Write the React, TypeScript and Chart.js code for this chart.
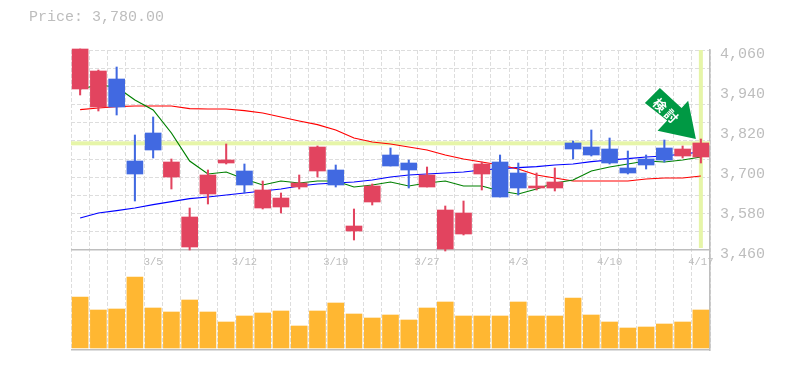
import React, { useEffect, useRef } from "react";
import { Chart, registerables } from "chart.js";

Chart.register(...registerables);

const dates = ["2/27","2/28","3/1","3/2","3/5","3/6","3/7","3/8","3/9","3/12","3/13","3/14","3/15","3/16","3/19","3/20","3/22","3/23","3/26","3/27","3/28","3/29","3/30","4/2","4/3","4/4","4/5","4/6","4/9","4/10","4/11","4/12","4/13","4/16","4/17"];
const shownDates = ["3/5","3/12","3/19","3/27","4/3","4/10","4/17"];

const opens = [3943,3889,3973,3727,3811,3679,3469,3628,3721,3697,3586,3589,3649,3697,3700,3517,3604,3745,3721,3649,3463,3508,3688,3724,3691,3646,3646,3781,3769,3763,3706,3733,3766,3742,3739];
const closes = [4063,3997,3889,3688,3760,3724,3559,3685,3730,3655,3640,3616,3661,3769,3655,3532,3652,3712,3700,3685,3580,3571,3718,3619,3646,3652,3664,3763,3745,3721,3691,3715,3730,3763,3781];
const highs = [4063,4000,4009,3805,3859,3733,3586,3700,3778,3718,3667,3631,3685,3772,3715,3583,3658,3766,3730,3709,3592,3607,3724,3745,3721,3691,3706,3787,3820,3796,3757,3745,3790,3772,3793];
const lows = [3925,3877,3865,3607,3736,3643,3460,3598,3718,3631,3583,3571,3643,3679,3649,3490,3595,3712,3646,3649,3457,3505,3640,3619,3625,3640,3637,3733,3742,3718,3688,3703,3724,3736,3721];
const volumes = [51,38,39,71,40,36,48,36,26,32,35,37,22,37,45,34,30,33,28,40,46,32,32,32,46,32,32,50,33,26,20,21,24,26,38];
const maShort = [3943,3955,3949,3910,3880,3811,3727,3688,3694,3673,3655,3667,3661,3667,3667,3649,3655,3664,3652,3661,3667,3652,3652,3637,3628,3643,3661,3670,3697,3709,3718,3727,3724,3730,3739];
const maMid = [3881,3886,3890,3892,3892,3892,3884,3883,3883,3878,3871,3859,3847,3836,3820,3796,3784,3778,3769,3760,3745,3733,3724,3715,3703,3685,3676,3667,3667,3667,3667,3673,3676,3676,3682];
const maLong = [3556,3571,3578,3586,3596,3605,3614,3619,3625,3631,3637,3643,3652,3658,3661,3664,3670,3679,3685,3688,3691,3694,3700,3704,3707,3710,3715,3718,3725,3730,3734,3739,3742,3748,3754];

const priceTicks = [4060,3940,3820,3700,3580,3460];
const gridPrices = [4060,4005.5,3951,3896.4,3841.8,3787.3,3732.7,3678.2,3623.6,3569.1,3514.5,3460,3160];
const currentPrice = 3780;
const title = "Price: 3,780.00";
const arrowText = ["検", "討"];

const UP = "#E2445F";
const DOWN = "#4169E1";
const PALE = "#E6F5A8";
const FRAME = "#BEBEBE";
const GRID = "#DDDDDD";
const TEXT = "#BDBDBD";
const MONO = "'Liberation Mono', monospace";

const candleColors = opens.map((o, i) => (closes[i] >= o ? UP : DOWN));

const bandsPlugin = {
  id: "bands",
  beforeDatasetsDraw(chart: any) {
    const { ctx, scales } = chart;
    const { left, right } = chart.chartArea;
    const y = scales.yPrice.getPixelForValue(currentPrice);
    const x = scales.x.getPixelForValue(dates.length - 1);
    ctx.save();
    ctx.fillStyle = PALE;
    ctx.fillRect(left, y - 2, right - left, 4);
    const top = scales.yPrice.getPixelForValue(4060);
    ctx.fillRect(x - 2, top, 4, scales.yPrice.getPixelForValue(3466) - top);
    ctx.restore();
  },
};

const arrowShape = [[-36,-51],[-51,-36],[-28.7,-18.6],[-38.3,-8.3],[0,0],[-7.7,-38.3],[-14.3,-31]];

const arrowPlugin = {
  id: "arrow",
  afterDatasetsDraw(chart: any) {
    const { ctx, scales } = chart;
    const last = dates.length - 1;
    const tipX = scales.x.getPixelForValue(last) - 5;
    const tipY = scales.yPrice.getPixelForValue(highs[last]);
    ctx.save();
    ctx.fillStyle = "#009944";
    ctx.beginPath();
    arrowShape.forEach(([dx, dy], i) => {
      if (i === 0) ctx.moveTo(tipX + dx, tipY + dy);
      else ctx.lineTo(tipX + dx, tipY + dy);
    });
    ctx.closePath();
    ctx.fill();
    ctx.fillStyle = "#FFFFFF";
    ctx.font = "bold 13px 'Noto Sans CJK JP'";
    ctx.textAlign = "center";
    ctx.textBaseline = "middle";
    [[-36, -34], [-24.5, -23]].forEach(([dx, dy], i) => {
      ctx.save();
      ctx.translate(tipX + dx, tipY + dy);
      ctx.rotate(Math.PI / 4);
      ctx.fillText(arrowText[i], 0, 0);
      ctx.restore();
    });
    ctx.restore();
  },
};

export default function App() {
  const ref = useRef<HTMLCanvasElement>(null);
  useEffect(() => {
    const chart = new Chart(ref.current as HTMLCanvasElement, {
      type: "bar",
      data: {
        labels: dates,
        datasets: [
          { type: "bar", label: "Body", data: opens.map((o, i) => [o, closes[i]]), yAxisID: "yPrice", backgroundColor: candleColors, barThickness: 16, grouped: false, order: 0, clip: false, borderWidth: 0 },
          { type: "bar", label: "Wick", data: lows.map((l, i) => [l, highs[i]]), yAxisID: "yPrice", backgroundColor: candleColors, barThickness: 1.4, grouped: false, order: 1, clip: false, borderWidth: 0 },
          { type: "line", label: "MA short", data: maShort, yAxisID: "yPrice", borderColor: "#008000", borderWidth: 1.2, pointRadius: 0, tension: 0, order: 2 },
          { type: "line", label: "MA mid", data: maMid, yAxisID: "yPrice", borderColor: "#FF0000", borderWidth: 1.2, pointRadius: 0, tension: 0, order: 2 },
          { type: "line", label: "MA long", data: maLong, yAxisID: "yPrice", borderColor: "#0000FF", borderWidth: 1.2, pointRadius: 0, tension: 0, order: 2 },
          { type: "bar", label: "Volume", data: volumes, yAxisID: "yVol", backgroundColor: "#FFB732", barThickness: 16, grouped: false, order: 3, borderWidth: 0 },
        ],
      } as any,
      options: {
        responsive: false,
        animation: false,
        events: [],
        layout: { padding: { top: 50, left: 71, bottom: 20, right: 0 } },
        plugins: { legend: { display: false }, tooltip: { enabled: false }, title: { display: false } },
        scales: {
          x: {
            type: "category",
            position: { yPrice: 3460 },
            offset: true,
            afterFit: (s: any) => { s.height = 0; },
            grid: { offset: true, color: GRID, lineWidth: 1, drawTicks: false },
            border: { display: false, dash: [4, 2] },
            ticks: {
              autoSkip: false,
              maxRotation: 0,
              padding: 6,
              color: TEXT,
              font: { family: MONO, size: 10.5 },
              callback(this: any, v: any) {
                const l = this.getLabelForValue(v);
                return shownDates.includes(l) ? l : "";
              },
            },
          },
          yPrice: {
            type: "linear",
            position: "right",
            min: 3160,
            max: 4060,
            afterBuildTicks: (s: any) => { s.ticks = gridPrices.map((value) => ({ value })); },
            afterFit: (s: any) => { s.width = 0; },
            grid: {
              drawTicks: false,
              color: (c: any) => (c.tick && c.tick.value <= 3460 ? FRAME : GRID),
              lineWidth: (c: any) => (c.tick && c.tick.value <= 3460 ? 1.6 : 1),
            },
            border: {
              display: true,
              color: FRAME,
              width: 1.6,
              dash: (c: any) => (c.tick && c.tick.value <= 3460 ? [] : [4, 2]),
            },
            ticks: { display: false },
          },
          yLabels: {
            type: "linear",
            position: "right",
            min: 3172,
            max: 4072,
            afterBuildTicks: (s: any) => { s.ticks = priceTicks.map((value) => ({ value })); },
            afterFit: (s: any) => { s.width = 75; },
            grid: { display: false, drawTicks: false },
            border: { display: false },
            ticks: {
              autoSkip: false,
              padding: 10,
              color: TEXT,
              font: { family: MONO, size: 15 },
              callback: (v: any) => Number(v).toLocaleString("en-US"),
            },
          },
          yVol: { type: "linear", display: false, min: -2, max: 298 },
        },
      } as any,
      plugins: [bandsPlugin, arrowPlugin],
    });
    return () => chart.destroy();
  }, []);
  return (
    <div style={{ position: "absolute", left: 0, top: 0, width: 785, height: 370, background: "#fff" }}>
      <canvas ref={ref} width={785} height={370} style={{ display: "block" }} />
      <div style={{ position: "absolute", left: 29, top: 9, font: `15px ${MONO}`, color: TEXT, whiteSpace: "pre" }}>{title}</div>
    </div>
  );
}
